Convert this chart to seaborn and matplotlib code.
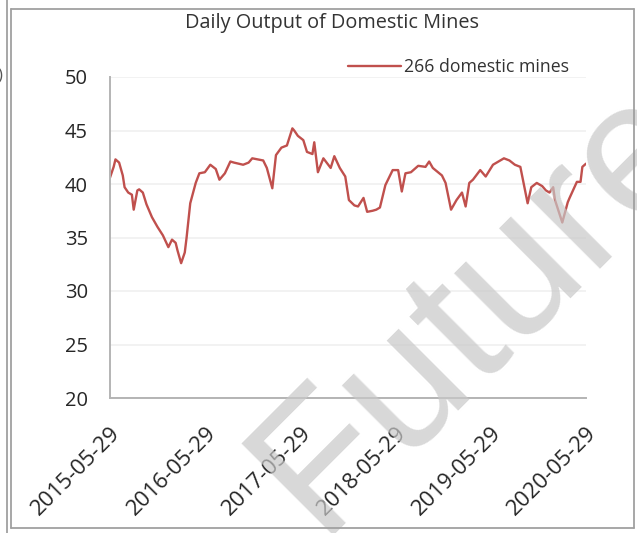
import matplotlib
matplotlib.use("Agg")
import matplotlib.pyplot as plt
from matplotlib.lines import Line2D
import pandas as pd
import seaborn as sns

# Weekly daily-output readings of the 266 domestic mines (10k t/day)
dates = [
    "2015-05-29", "2015-06-12", "2015-06-19", "2015-07-03", "2015-07-17", "2015-07-24",
    "2015-08-07", "2015-08-21", "2015-08-28", "2015-09-11", "2015-09-18", "2015-10-02",
    "2015-10-16", "2015-11-06", "2015-11-27", "2015-12-18", "2016-01-08", "2016-01-22",
    "2016-02-05", "2016-02-12", "2016-02-26", "2016-03-11", "2016-03-18", "2016-04-01",
    "2016-04-22", "2016-05-06", "2016-05-27", "2016-06-17", "2016-07-08", "2016-07-22",
    "2016-08-12", "2016-09-02", "2016-09-16", "2016-10-21", "2016-11-11", "2016-11-25",
    "2016-12-16", "2017-01-06", "2017-01-20", "2017-02-10", "2017-02-24", "2017-03-17",
    "2017-04-07", "2017-04-28", "2017-05-05", "2017-05-19", "2017-06-09", "2017-06-23",
    "2017-07-14", "2017-07-21", "2017-08-04", "2017-08-25", "2017-09-22", "2017-10-06",
    "2017-10-27", "2017-11-17", "2017-12-01", "2017-12-22", "2018-01-05", "2018-01-26",
    "2018-02-09", "2018-03-02", "2018-03-16", "2018-03-30", "2018-04-20", "2018-05-18",
    "2018-06-08", "2018-06-22", "2018-07-06", "2018-07-27", "2018-08-24", "2018-09-21",
    "2018-10-05", "2018-10-19", "2018-11-23", "2018-12-07", "2018-12-28", "2019-01-18",
    "2019-02-08", "2019-02-22", "2019-03-08", "2019-03-22", "2019-04-19", "2019-05-10",
    "2019-06-07", "2019-07-05", "2019-07-19", "2019-08-09", "2019-08-30", "2019-09-20",
    "2019-10-18", "2019-11-01", "2019-11-22", "2019-12-13", "2019-12-27", "2020-01-10",
    "2020-01-24", "2020-01-31", "2020-02-28", "2020-03-20", "2020-03-27", "2020-04-24",
    "2020-05-08", "2020-05-15", "2020-05-29",
]
output = [
    40.6, 41.6, 42.3, 42.0, 40.8, 39.7,
    39.2, 39.0, 37.6, 39.4, 39.5, 39.2,
    38.1, 36.9, 36.0, 35.2, 34.1, 34.8,
    34.5, 33.8, 32.6, 33.6, 35.0, 38.2,
    40.1, 41.0, 41.1, 41.8, 41.4, 40.4,
    41.0, 42.1, 42.0, 41.8, 42.0, 42.4,
    42.3, 42.2, 41.5, 39.6, 42.7, 43.4,
    43.6, 45.2, 45.0, 44.5, 44.1, 43.0,
    42.8, 43.9, 41.1, 42.4, 41.5, 42.6,
    41.5, 40.7, 38.5, 38.0, 37.9, 38.7,
    37.4, 37.5, 37.6, 37.8, 39.9, 41.3,
    41.3, 39.3, 41.0, 41.1, 41.7, 41.6,
    42.1, 41.5, 40.8, 40.1, 37.6, 38.5,
    39.2, 37.9, 40.1, 40.4, 41.3, 40.7,
    41.8, 42.2, 42.4, 42.2, 41.8, 41.6,
    38.2, 39.7, 40.1, 39.8, 39.4, 39.2,
    39.7, 38.5, 36.4, 38.3, 38.7, 40.2,
    40.2, 41.6, 41.9,
]
series_name = "266 domestic mines"
title = "Daily Output of Domestic Mines"
x_ticks = ["2015-05-29", "2016-05-29", "2017-05-29", "2018-05-29", "2019-05-29", "2020-05-29"]
y_ticks = [20, 25, 30, 35, 40, 45, 50]

sns.set_theme(style="white")
plt.rcParams["font.family"] = ["Open Sans", "DejaVu Sans"]

W, H = 637, 533
fig = plt.figure(figsize=(W / 100, H / 100), dpi=100)
fig.patch.set_facecolor("white")


def fx(px):
    return px / W


def fy(py):
    return 1 - py / H


ax = fig.add_axes([fx(110), fy(398), fx(586) - fx(110), fy(77) - fy(398)])

df = pd.DataFrame({"date": pd.to_datetime(dates), "value": output})
sns.lineplot(data=df, x="date", y="value", ax=ax, color="#c0504d",
             linewidth=1.7, label=series_name)

ax.set_xlim(pd.Timestamp(x_ticks[0]), pd.Timestamp(x_ticks[-1]))
ax.set_ylim(y_ticks[0], y_ticks[-1])
ax.set_yticks(y_ticks)
ax.set_yticklabels([str(v) for v in y_ticks], fontsize=14.5, color="#262626")
ax.set_xticks(pd.to_datetime(x_ticks))
ax.set_xticklabels(x_ticks, rotation=45, ha="right", rotation_mode="anchor",
                   fontsize=16, color="#262626")
ax.set_xlabel("")
ax.set_ylabel("")

ax.grid(axis="y", color="#f0f0f0", linewidth=1.2)
ax.set_axisbelow(True)
for side in ("top", "right"):
    ax.spines[side].set_visible(False)
for side in ("left", "bottom"):
    ax.spines[side].set_color("#b4b4b4")
    ax.spines[side].set_linewidth(1.4)
ax.tick_params(axis="y", length=0, pad=16)
ax.tick_params(axis="x", direction="out", length=6, width=1.2, color="#b4b4b4", pad=12)

leg = ax.legend(loc="center left", bbox_to_anchor=(fx(348), fy(67)),
                bbox_transform=fig.transFigure, frameon=False, fontsize=12.7,
                handlelength=3.0, handletextpad=0.15, borderpad=0, borderaxespad=0)
for t in leg.get_texts():
    t.set_color("#333333")

fig.text(fx(332), fy(23), title, ha="center", va="center", fontsize=14.3, color="#333333")

# Light grey "Futures" watermark across the plot
fig.text(fx(318), fy(536), "Futures", rotation=45, rotation_mode="anchor",
         ha="left", va="baseline", fontsize=137, family="Liberation Sans",
         color="#c8c8c8", alpha=0.7, zorder=10)

# Window-style border around the chart
border = "#a0a0a0"
for xs, ys in [((7, 7), (0, H)), ((11, 11), (9, 528)), ((11, 634), (9, 9)),
               ((11, 634), (528, 528)), ((634, 634), (9, 528))]:
    fig.add_artist(Line2D([fx(x) for x in xs], [fy(y) for y in ys],
                          transform=fig.transFigure, color=border, linewidth=1.3,
                          zorder=20))
fig.text(fx(-3), fy(75), ")", ha="left", va="center", fontsize=12, color="#555555")

fig.savefig("out.png", dpi=100)
